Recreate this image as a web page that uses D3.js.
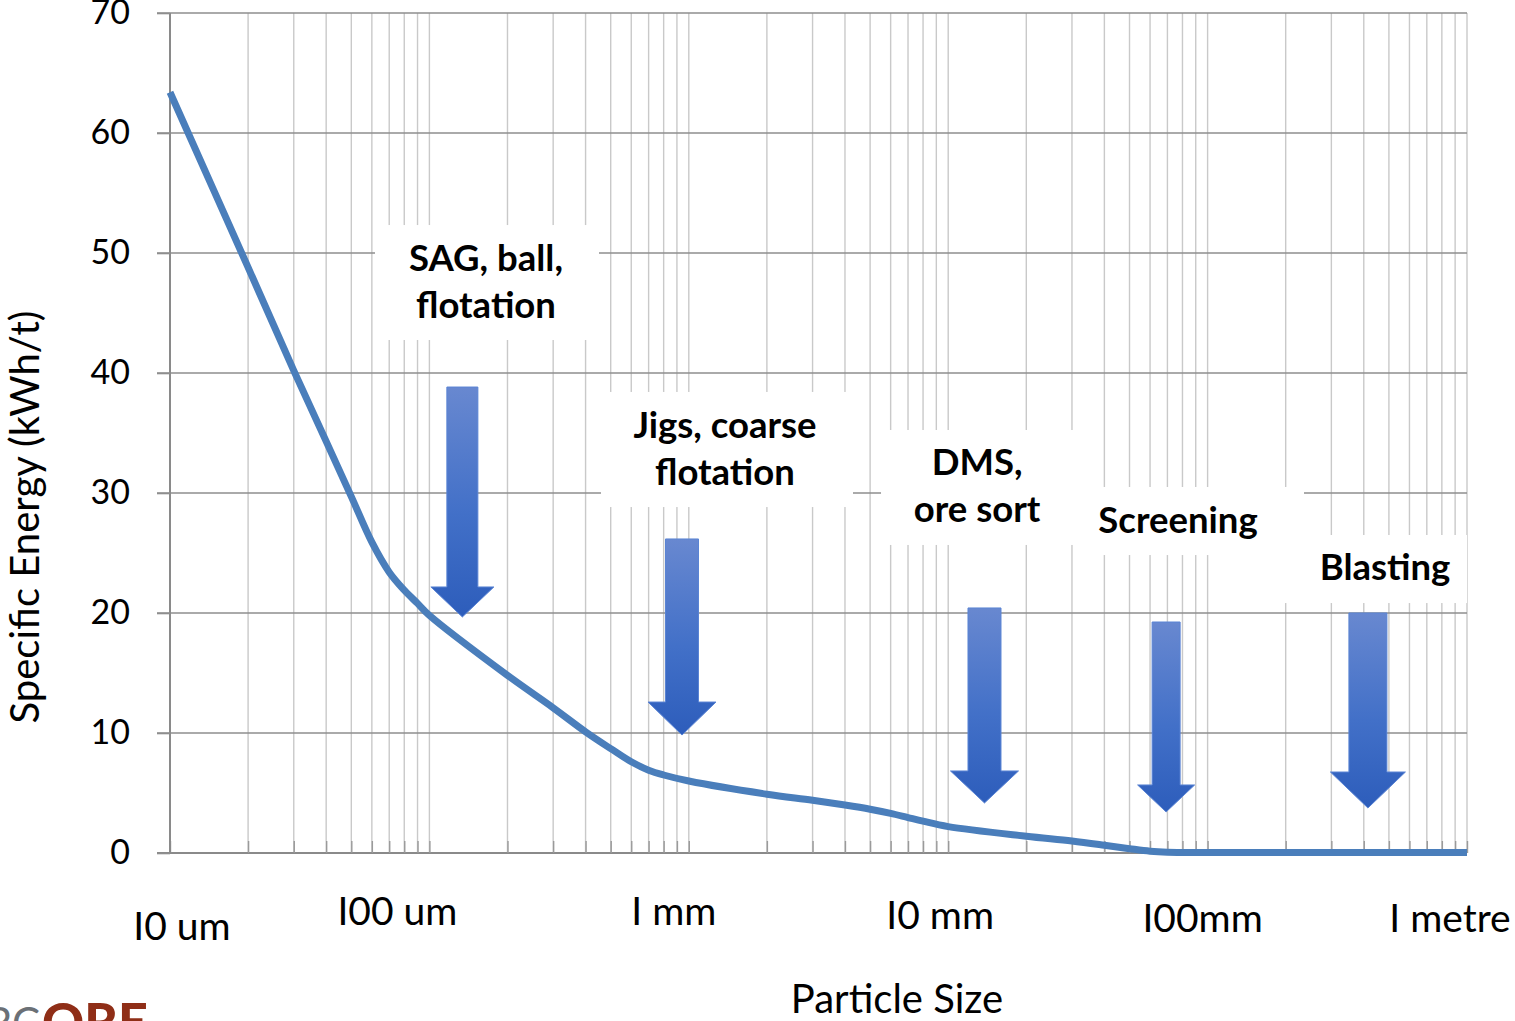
<!DOCTYPE html>
<html>
<head>
<meta charset="utf-8">
<script src="https://cdn.jsdelivr.net/npm/d3@7"></script>
<style>
  html, body { margin: 0; padding: 0; background: #fff; }
  svg { display: block; }
</style>
</head>
<body>
<div id="chart"></div>
<script>
// Specific energy vs particle size (size in mm, energy in kWh/t)
const sizes  = [0.01, 0.02, 0.03, 0.04, 0.05, 0.06, 0.07, 0.08, 0.09, 0.1,
                0.2, 0.3, 0.4, 0.5, 0.6, 0.7, 0.8, 1,
                2, 3, 4, 5, 6, 7, 8, 10,
                20, 30, 40, 50, 60, 70, 100, 1000]
const energy = [63.4, 48.8, 40.2, 34.3, 29.7, 25.9, 23.4, 21.9, 20.8, 19.8,
                14.8, 12.1, 10.1, 8.7, 7.6, 6.9, 6.5, 6.0,
                4.9, 4.4, 4.0, 3.65, 3.3, 2.95, 2.65, 2.2,
                1.4, 1.0, 0.65, 0.36, 0.15, 0.07, 0.05, 0.05]

const yTicks = [0, 10, 20, 30, 40, 50, 60, 70]
const decadeSizes  = [0.01, 0.1, 1, 10, 100, 1000]
const decadeLabels = ["I0 um", "I00 um", "I mm", "I0 mm", "I00mm", "I metre"]

// process annotations (anchored in data units)
const processLines = [["SAG, ball,", "flotation"], ["Jigs, coarse", "flotation"],
                      ["DMS,", "ore sort"], ["Screening"], ["Blasting"]]
const labelSize   = [0.1653, 1.379, 12.92, 76.9, 483]
const labelEnergy = [48.5, 34.58, 31.5, 26.67, 22.75]
const boxFrom   = [0.0617, 0.4586, 5.508, 30.83, 195.3]
const boxTo     = [0.4506, 4.295, 31.1, 235.3, 1000]
const boxTop    = [52.33, 38.42, 35.25, 30.5, 26.5]
const boxBottom = [42.75, 28.83, 25.67, 24.83, 20.83]
const arrowSize = [0.134, 0.9415, 13.8, 69.2, 415]
const arrowTop  = [38.83, 26.17, 20.42, 19.25, 20.0]
const arrowTip  = [19.67, 9.83, 4.17, 3.42, 3.75]

// layout
const width = 1515, height = 1021
const plot = { left: 170, right: 1467, top: 13, bottom: 853 }
const shaftW = [31, 33, 33, 28, 38]
const headW  = [63, 68, 68, 57, 75]
const headH  = [30, 33, 32, 27, 36]
const decadeDx = [12, -32, -15, -8, -5, -17]
const decadeBaseline = [940, 925, 925, 929, 932, 932]
const font = "Lato, 'Open Sans', sans-serif"

const svg = d3.select("#chart").append("svg")
  .attr("width", width)
  .attr("height", height)

const defs = svg.append("defs")
const grad = defs.append("linearGradient")
  .attr("id", "arrowFill")
  .attr("x1", 0).attr("y1", 0).attr("x2", 0).attr("y2", 1)
grad.append("stop").attr("offset", "0%").attr("stop-color", "#6888d0")
grad.append("stop").attr("offset", "55%").attr("stop-color", "#4270c8")
grad.append("stop").attr("offset", "100%").attr("stop-color", "#2d5dbb")

const x = d3.scaleLog().domain([0.01, 1000]).range([plot.left, plot.right])
const y = d3.scaleLinear().domain([0, 70]).range([plot.bottom, plot.top])

// vertical (log) gridlines
svg.append("g")
  .selectAll("line")
  .data(x.ticks())
  .join("line")
    .attr("x1", d => x(d)).attr("x2", d => x(d))
    .attr("y1", plot.top).attr("y2", plot.bottom)
    .attr("stroke", "#c9c9c9")
    .attr("stroke-width", 1.4)

// horizontal gridlines
svg.append("g")
  .selectAll("line")
  .data(yTicks)
  .join("line")
    .attr("x1", plot.left - 13).attr("x2", plot.right)
    .attr("y1", d => y(d)).attr("y2", d => y(d))
    .attr("stroke", "#8e8e8e")
    .attr("stroke-width", 1.6)

// x axis with inside minor ticks
const xAxis = svg.append("g")
  .attr("transform", `translate(0,${plot.bottom})`)
  .call(d3.axisBottom(x).tickValues(x.ticks()).tickSize(-12).tickFormat(""))
xAxis.select(".domain")
  .attr("d", `M${plot.left - 13},0H${plot.right}`)
  .attr("stroke", "#8a8a8a").attr("stroke-width", 2)
xAxis.selectAll(".tick line").attr("stroke", "#9a9a9a").attr("stroke-width", 1.4)

// y axis
const yAxis = svg.append("g")
  .attr("transform", `translate(${plot.left},0)`)
  .call(d3.axisLeft(y).tickValues(yTicks).tickSize(13).tickPadding(27))
yAxis.select(".domain").attr("d", `M0,${plot.top}V${plot.bottom}`)
  .attr("stroke", "#8a8a8a").attr("stroke-width", 2)
yAxis.selectAll(".tick line").attr("stroke", "#8e8e8e").attr("stroke-width", 1.6)
yAxis.selectAll(".tick text")
  .attr("fill", "#000")
  .style("font-family", font)
  .style("font-size", "34px")

// decade labels
svg.append("g")
  .selectAll("text")
  .data(decadeSizes)
  .join("text")
    .attr("x", (d, i) => x(d) + decadeDx[i])
    .attr("y", (d, i) => decadeBaseline[i])
    .attr("text-anchor", "middle")
    .style("font-family", font)
    .style("font-size", "39px")
    .text((d, i) => decadeLabels[i])

// axis titles
svg.append("text")
  .attr("x", 897).attr("y", 1013)
  .attr("text-anchor", "middle")
  .style("font-family", font)
  .style("font-size", "40px")
  .text("Particle Size")

svg.append("text")
  .attr("transform", "translate(39,517) rotate(-90)")
  .attr("text-anchor", "middle")
  .style("font-family", font)
  .style("font-size", "40px")
  .text("Specific Energy (kWh/t)")

// energy curve
const line = d3.line()
  .x((d, i) => x(sizes[i]))
  .y(d => y(d))
  .curve(d3.curveCatmullRom.alpha(0.5))

svg.append("path")
  .datum(energy)
  .attr("d", line)
  .attr("fill", "none")
  .attr("stroke", "#4a7ebb")
  .attr("stroke-width", 7)
  .attr("stroke-linejoin", "round")

// annotation boxes, labels and arrows
const notes = svg.append("g")
processLines.forEach((lines, i) => {
  notes.append("rect")
    .attr("x", x(boxFrom[i]))
    .attr("y", y(boxTop[i]))
    .attr("width", x(boxTo[i]) - x(boxFrom[i]))
    .attr("height", y(boxBottom[i]) - y(boxTop[i]))
    .attr("fill", "#fff")

  lines.forEach((t, j) => {
    notes.append("text")
      .attr("x", x(labelSize[i]))
      .attr("y", y(labelEnergy[i]) + j * 47)
      .attr("text-anchor", "middle")
      .style("font-family", font)
      .style("font-weight", "bold")
      .style("font-size", "36.5px")
      .text(t)
  })

  const cx = x(arrowSize[i]), top = y(arrowTop[i]), tip = y(arrowTip[i])
  const neck = tip - headH[i], s = shaftW[i] / 2, h = headW[i] / 2
  notes.append("path")
    .attr("d", `M${cx - s},${top}H${cx + s}V${neck}H${cx + h}L${cx},${tip}L${cx - h},${neck}H${cx - s}Z`)
    .attr("fill", "url(#arrowFill)")
    .attr("stroke", "#5a84d4")
    .attr("stroke-width", 1)
})

// logo, cut off at the page corner
svg.append("text")
  .attr("x", 40).attr("y", 1038)
  .attr("text-anchor", "end")
  .attr("fill", "#6b7076")
  .style("font-family", font)
  .style("font-size", "42px")
  .text("CRC")
svg.append("text")
  .attr("x", 42).attr("y", 1040)
  .attr("fill", "#8f2e17")
  .style("font-family", font)
  .style("font-weight", "900")
  .style("font-size", "52px")
  .text("ORE")
</script>
</body>
</html>
